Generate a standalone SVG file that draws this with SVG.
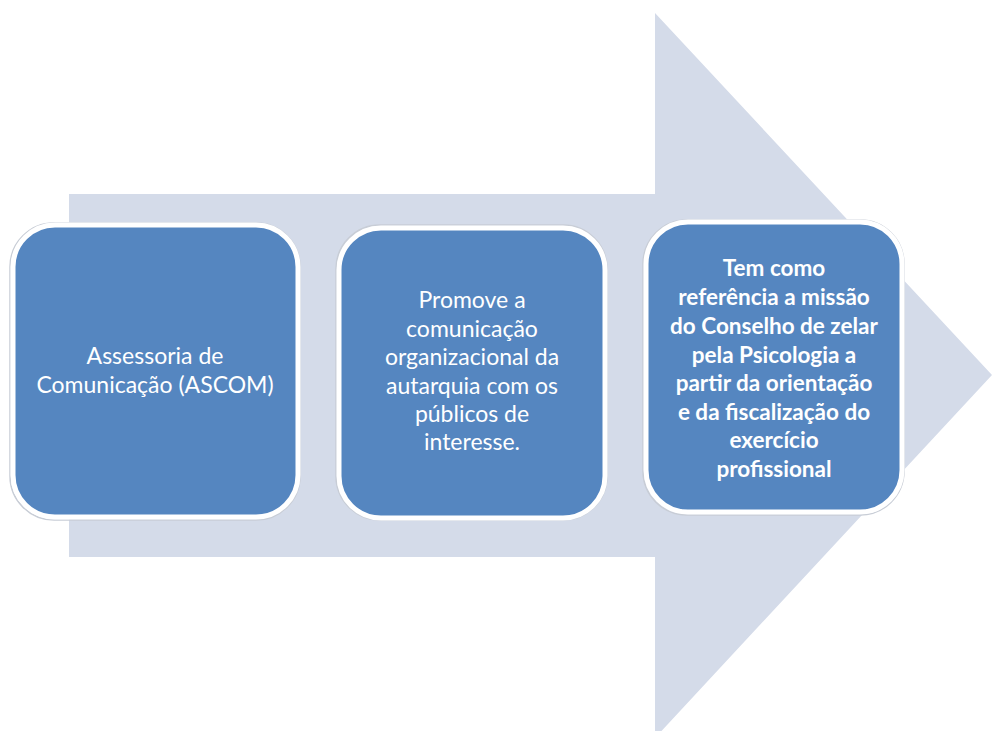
<svg xmlns="http://www.w3.org/2000/svg" width="992" height="731" viewBox="0 0 992 731">
<style>
.box{fill:#5586c0;stroke:#ffffff;stroke-width:5}
.sh{fill:none;stroke:#c8cdd6;stroke-width:1.5}
.t{font-family:Lato,"Open Sans","Liberation Sans",sans-serif;font-size:23px;fill:#ffffff;text-anchor:middle}
.b{font-weight:bold;font-size:22.5px}
</style>
<rect width="992" height="731" fill="#ffffff"/>
<g id="arrow">
<polygon points="69,194 655,194 655,13 992,375 655,738 655,557 69,557" fill="#d4dbe9"/>
</g>
<g id="node1">
<rect class="sh" x="10" y="223" width="290" height="297" rx="44"/>
<rect class="box" x="13" y="225" width="285" height="292" rx="42"/>
<text class="t" x="155" y="364">Assessoria de</text>
<text class="t" x="155" y="393">Comunicação (ASCOM)</text>
</g>
<g id="node2">
<rect class="sh" x="336" y="225" width="271" height="295" rx="44"/>
<rect class="box" x="339" y="228" width="266" height="290" rx="42"/>
<text class="t" x="472" y="308">Promove a</text>
<text class="t" x="472" y="337">comunicação</text>
<text class="t" x="472" y="365">organizacional da</text>
<text class="t" x="472" y="394">autarquia com os</text>
<text class="t" x="472" y="422">públicos de</text>
<text class="t" x="472" y="450">interesse.</text>
</g>
<g id="node3">
<rect class="sh" x="643" y="220" width="261" height="295" rx="44"/>
<rect class="box" x="646" y="222" width="256" height="290" rx="42"/>
<text class="t b" x="774" y="276">Tem como</text>
<text class="t b" x="774" y="305">referência a missão</text>
<text class="t b" x="774" y="334">do Conselho de zelar</text>
<text class="t b" x="774" y="363">pela Psicologia a</text>
<text class="t b" x="774" y="391">partir da orientação</text>
<text class="t b" x="774" y="420">e da fiscalização do</text>
<text class="t b" x="774" y="448">exercício</text>
<text class="t b" x="774" y="477">profissional</text>
</g>
<g id="connectors"></g>
</svg>
